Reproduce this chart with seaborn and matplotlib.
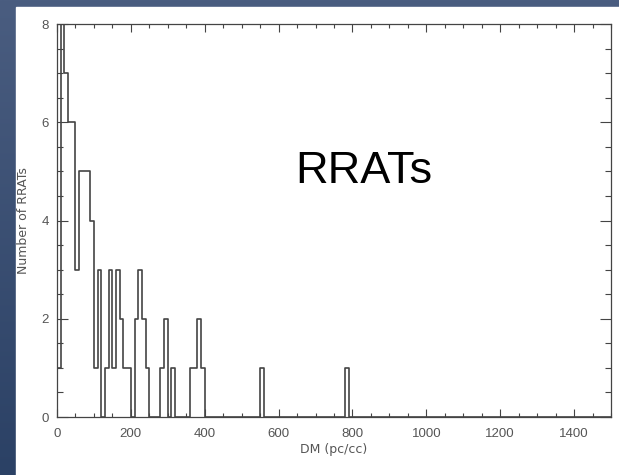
import numpy as np
import pandas as pd
import matplotlib
matplotlib.use("Agg")
import matplotlib.pyplot as plt
from matplotlib.colors import LinearSegmentedColormap
from matplotlib.patches import Rectangle
import seaborn as sns

# ---- data ----
bin_left = [0, 10, 20, 30, 40, 50, 60, 70, 80, 90, 100, 110, 130, 140, 150, 160,
            170, 180, 190, 210, 220, 230, 240, 280, 290, 310, 360, 370, 380, 390,
            550, 780]
counts = [1, 8, 7, 6, 6, 3, 5, 5, 5, 4, 1, 3, 1, 3, 1, 3,
          2, 1, 1, 2, 3, 2, 1, 1, 2, 1, 1, 1, 2, 1,
          1, 1]
bin_width = 10
x_ticks = [0, 200, 400, 600, 800, 1000, 1200, 1400]
y_ticks = [0, 2, 4, 6, 8]

df = pd.DataFrame({"dm": np.array(bin_left) + bin_width / 2, "n": counts})

W, H = 619, 475
fig = plt.figure(figsize=(W / 100, H / 100), dpi=100)

# slide background: blue gradient + white panel
bg = fig.add_axes([0, 0, 1, 1], zorder=-10)
cmap = LinearSegmentedColormap.from_list("bg", ["#2b4165", "#4a5d80"])
grad = np.linspace(0, 1, 256).reshape(-1, 1)
bg.imshow(grad, aspect="auto", cmap=cmap, origin="lower", extent=[0, 1, 0, 1])
bg.add_patch(Rectangle((16 / W, 0), 1 - 16 / W, (H - 7) / H, color="white",
                       transform=bg.transAxes))
bg.set_axis_off()

ax = fig.add_axes([57 / W, (H - 417) / H, (611 - 57) / W, (417 - 24) / H])
ax.set_facecolor("white")
sns.histplot(data=df, x="dm", weights="n", binwidth=bin_width, binrange=(0, 1500),
             element="step", fill=False, color="#444444", linewidth=1.2, ax=ax)

ax.set_xlim(0, 1500)
ax.set_ylim(0, 8)
ax.set_xticks(x_ticks)
ax.set_yticks(y_ticks)
ax.set_xticks(np.arange(0, 1501, 50), minor=True)
ax.set_yticks(np.arange(0, 8.01, 0.5), minor=True)

grey = "#555555"
for s in ax.spines.values():
    s.set_color("#444444")
    s.set_linewidth(0.9)
ax.tick_params(axis="x", which="major", direction="in", top=True, bottom=True,
               length=6, width=0.8, color="#444444", labelsize=9.5, labelcolor=grey, pad=8)
ax.tick_params(axis="x", which="minor", direction="in", top=True, bottom=True,
               length=3, width=0.8, color="#444444")
ax.tick_params(axis="y", which="major", direction="in", left=True, right=True,
               length=8, width=0.8, color="#444444", labelsize=9.5, labelcolor=grey, pad=6)
ax.tick_params(axis="y", which="minor", direction="in", left=True, right=True,
               length=4, width=0.8, color="#444444")
for lab in ax.get_xticklabels() + ax.get_yticklabels():
    lab.set_family("Liberation Sans")

ax.set_xlabel("DM (pc/cc)", fontsize=9, color=grey, family="DejaVu Sans", labelpad=2)
ax.set_ylabel("Number of RRATs", fontsize=9, color=grey, family="DejaVu Sans", labelpad=8)

ax.text(646, 4.77, "RRATs", fontsize=32.5, family="Liberation Sans", color="black",
        ha="left", va="baseline")

fig.savefig("out.png", dpi=100, facecolor=fig.get_facecolor())
